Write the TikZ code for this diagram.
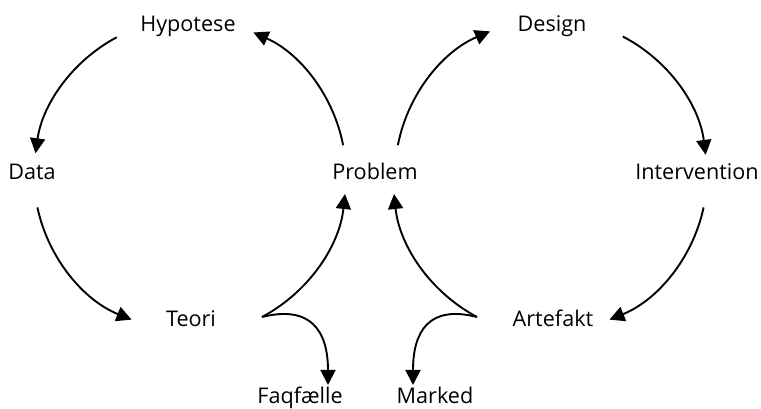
\documentclass[tikz,border=0pt]{standalone}
\usepackage{fontspec}
\setmainfont{Open Sans}
\usetikzlibrary{arrows.meta}
\begin{document}
\begin{tikzpicture}[x=1pt,y=1pt,
  lbl/.style={font=\fontsize{21.6}{24}\selectfont, anchor=base, inner sep=0pt},
  flow/.style={line width=1.9pt, -{Triangle[length=15pt,width=15pt]}}]
\useasboundingbox (0,0) rectangle (761,409);
% labels
\node[lbl] (hyp)   at (188,377) {Hypotese};
\node[lbl] (data)  at (32,229)  {Data};
\node[lbl] (prob)  at (375,229) {Problem};
\node[lbl] (teori) at (191,82)  {Teori};
\node[lbl] (fag)   at (300,5)   {Faqfælle};
\node[lbl] (des)   at (552,377) {Design};
\node[lbl] (int)   at (697,229) {Intervention};
\node[lbl] (art)   at (553,82)  {Artefakt};
\node[lbl] (mark)  at (435,5)   {Marked};
% centres of the two cycles
\coordinate (c1) at (190,234);
\coordinate (c2) at (551,234);
% research cycle
\draw[flow] ([shift={(11:156)}]c1) arc[start angle=11, end angle=66, radius=156];
\draw[flow] ([shift={(118:156)}]c1) arc[start angle=118, end angle=172, radius=156];
\draw[flow] ([shift={(192:156)}]c1) arc[start angle=192, end angle=248, radius=156];
\coordinate (tk) at (262,92);
\draw[flow] (tk) arc[start angle=298, end angle=354, radius=158];
\draw[flow] (tk) .. controls (310,104) and (328,79) .. (328,24);
% design cycle
\draw[flow] ([shift={(169:156)}]c2) arc[start angle=169, end angle=113, radius=156];
\draw[flow] ([shift={(62.6:156)}]c2) arc[start angle=62.6, end angle=7.4, radius=156];
\draw[flow] ([shift={(-12:156)}]c2) arc[start angle=-12, end angle=-68, radius=156];
\coordinate (ak) at (477,92);
\draw[flow] (ak) arc[start angle=242, end angle=186, radius=158];
\draw[flow] (ak) .. controls (430,104) and (413,79) .. (413,24);
\end{tikzpicture}
\end{document}
